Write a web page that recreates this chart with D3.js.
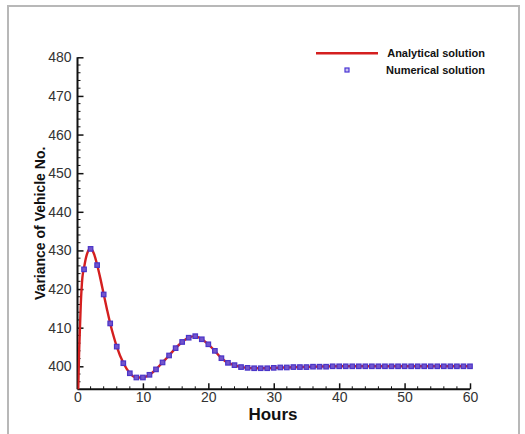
<!DOCTYPE html>
<html><head><meta charset="utf-8">
<script src="https://cdn.jsdelivr.net/npm/d3@7/dist/d3.min.js"></script>
<style>
html,body{margin:0;padding:0;background:#fff;}
svg{display:block;}
</style></head>
<body>
<script>
// ---- data ----
const analyticalHours = [0,0.25,0.5,0.75,1,1.25,1.5,1.75,2,2.5,3,3.5,4,4.5,5,5.5,6,7,8,9,10,11,12,13,14,15,16,17,18,19,20,21,22,23,24,25,26,27,28,29,30,32,34,36,40,45,50,55,60];
const analyticalValues = [386,404,416,423,425.5,427.8,429.3,430.2,430.5,429.2,426.3,422.7,418.7,414.8,411.1,407.9,405.1,400.9,398.2,397.1,397.1,397.8,399.2,401.0,402.8,404.7,406.3,407.4,407.8,407.0,405.7,404.0,402.1,400.9,400.3,399.8,399.6,399.5,399.5,399.5,399.6,399.7,399.8,399.9,400,400,400,400,400];
const numericalHours = d3.range(1, 61);
const numericalValues = [425.1,430.4,426.2,418.6,411.1,405.1,400.8,398.2,397.1,397.1,
  397.8,399.2,401.0,402.8,404.7,406.3,407.4,407.8,407.0,405.7,
  404.0,402.1,400.9,400.3,399.8,399.6,399.5,399.5,399.5,399.6,
  399.7,399.7,399.8,399.8,399.8,399.9,399.9,399.9,400.0,400.0,
  400.0,400.0,400.0,400.0,400.0,400.0,400.0,400.0,400.0,400.0,
  400.0,400.0,400.0,400.0,400.0,400.0,400.0,400.0,400.0,400.0];
const xTicks = [0,10,20,30,40,50,60];
const yTicks = [400,410,420,430,440,450,460,470,480];
const legendLabels = ["Analytical solution","Numerical solution"];

// ---- layout ----
const W = 525, H = 434;
const x0 = 77.5, x1 = 470, yTop = 57.3, yBot = 389.3;
const svg = d3.select("body").append("svg").attr("width", W).attr("height", H);

// frame
svg.append("rect").attr("x", 8).attr("y", 6).attr("width", 511).attr("height", 440)
  .attr("fill", "none").attr("stroke", "#b8b8b8").attr("stroke-width", 2);

const x = d3.scaleLinear().domain([0, 60]).range([x0, x1]);
const y = d3.scaleLinear().domain([394, 480]).range([yBot, yTop]);
// y so that 480 -> 57.3 and 400 -> 366.3
y.domain([400 - (yBot - 366.3) / ((366.3 - 57.3) / 80), 480]);

svg.append("defs").append("clipPath").attr("id", "clip")
  .append("rect").attr("x", x0).attr("y", yTop - 5).attr("width", x1 - x0 + 10).attr("height", yBot - yTop + 5);

const font = "'Liberation Sans', Arial, Helvetica, sans-serif";

// axes
const xAxis = d3.axisBottom(x).tickValues(xTicks).tickSize(-6).tickPadding(3).tickFormat(d3.format("d"));
const gx = svg.append("g").attr("transform", `translate(0,${yBot})`).call(xAxis);
const yAxis = d3.axisLeft(y).tickValues(yTicks).tickSize(-6).tickPadding(6).tickFormat(d3.format("d"));
const gy = svg.append("g").attr("transform", `translate(${x0},0)`).call(yAxis);
[gx, gy].forEach(g => {
  g.select(".domain").attr("stroke", "#111").attr("stroke-width", 2);
  g.selectAll(".tick line").attr("stroke", "#111").attr("stroke-width", 1.5);
  g.selectAll(".tick text").attr("fill", "#333").style("font-family", font).style("font-size", "14px");
});
gy.select(".domain").attr("d", `M0,${yBot}V${yTop}`);
gx.select(".domain").attr("d", `M${x0},0H${x1}`);

// minor ticks
const xMinor = d3.range(0, 61, 2).filter(v => v % 10 !== 0);
svg.append("g").selectAll("line").data(xMinor).join("line")
  .attr("x1", d => x(d)).attr("x2", d => x(d)).attr("y1", yBot).attr("y2", yBot - 3)
  .attr("stroke", "#111").attr("stroke-width", 1);
const yMinor = d3.range(396, 481, 2).filter(v => v % 10 !== 0);
svg.append("g").selectAll("line").data(yMinor).join("line")
  .attr("x1", x0).attr("x2", x0 + 3).attr("y1", d => y(d)).attr("y2", d => y(d))
  .attr("stroke", "#111").attr("stroke-width", 1);

// axis titles
svg.append("text").attr("x", 273).attr("y", 420).attr("text-anchor", "middle")
  .style("font-family", font).style("font-weight", "bold").style("font-size", "17px").attr("fill", "#111")
  .text("Hours");
svg.append("text").attr("transform", `translate(45,${(yTop + yBot) / 2}) rotate(-90)`).attr("text-anchor", "middle")
  .style("font-family", font).style("font-weight", "bold").style("font-size", "14px").attr("fill", "#111")
  .text("Variance of Vehicle No.");

// analytical line
const aData = analyticalHours.map((h, i) => [h, analyticalValues[i]]);
const line = d3.line().x(d => x(d[0])).y(d => y(d[1])).curve(d3.curveMonotoneX);
svg.append("path").datum(aData).attr("clip-path", "url(#clip)")
  .attr("d", line).attr("fill", "none").attr("stroke", "#d41f1f").attr("stroke-width", 2.4);

// numerical markers
const nData = numericalHours.map((h, i) => [h, numericalValues[i]]);
const ms = 4.5;
svg.append("g").selectAll("rect").data(nData).join("rect")
  .attr("x", d => x(d[0]) - ms / 2).attr("y", d => y(d[1]) - ms / 2)
  .attr("width", ms).attr("height", ms)
  .attr("fill", "#7355cc").attr("stroke", "#4a35c8").attr("stroke-width", 1.2);

// legend
const lg = svg.append("g");
lg.append("line").attr("x1", 316).attr("x2", 378).attr("y1", 53.3).attr("y2", 53.3)
  .attr("stroke", "#d41f1f").attr("stroke-width", 2.4);
lg.append("rect").attr("x", 347 - 2).attr("y", 70 - 2).attr("width", 4).attr("height", 4)
  .attr("fill", "#c8c0f0").attr("stroke", "#4a35d4").attr("stroke-width", 1.2);
lg.selectAll("text").data(legendLabels).join("text")
  .attr("x", 485).attr("y", (d, i) => 57 + i * 17).attr("text-anchor", "end")
  .style("font-family", font).style("font-weight", "bold").style("font-size", "11px").attr("fill", "#111")
  .text(d => d);
</script>
</body></html>
